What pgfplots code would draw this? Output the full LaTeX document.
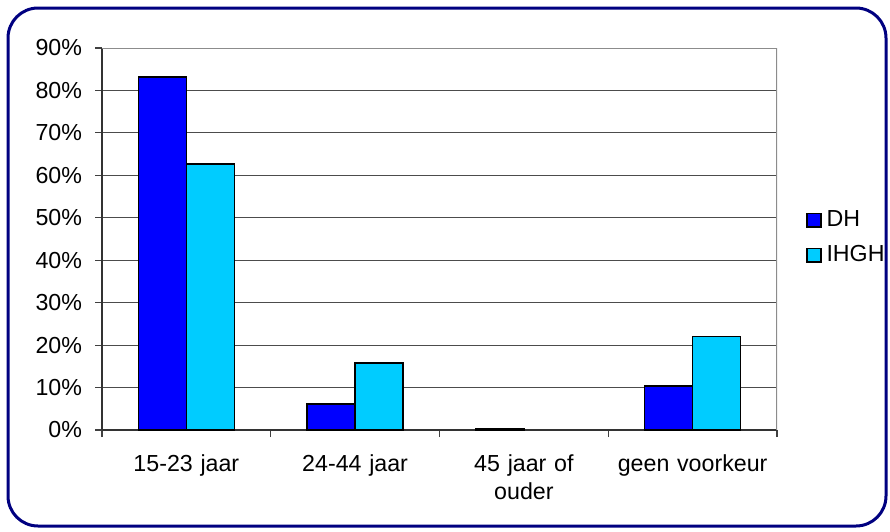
\documentclass[border=0pt]{standalone}
\usepackage{pgfplots}
\pgfplotsset{compat=1.18}
\usepackage{fontspec}
\setmainfont{Liberation Sans}
\definecolor{dhBlue}{HTML}{0000FF}
\definecolor{ihghCyan}{HTML}{00CCFF}
\definecolor{frameNavy}{HTML}{000080}
\begin{document}
\begin{tikzpicture}
% page = 890x531 px, 1px = 0.5pt, y downwards negative
\path (0pt,0pt) rectangle (445pt,-265.5pt);
\draw[frameNavy, line width=1.5pt, rounded corners=15pt] (4pt,-4pt) rectangle (443pt,-263pt);
\begin{axis}[
    at={(51pt,-215pt)},
    anchor=south west,
    scale only axis,
    width=337.5pt,
    height=191pt,
    font=\fontsize{11.6}{13.8}\selectfont,
    xmin=-0.5, xmax=3.5,
    ymin=0, ymax=90,
    ybar=0pt,
    bar width=0.284,
    xtick={-0.5,0.5,1.5,2.5,3.5},
    x tick label as interval,
    xticklabels={15-23 jaar,24-44 jaar,{45 jaar of\\ouder},geen voorkeur},
    xticklabel style={align=center, text width=90pt, yshift=-5.5pt},
    ytick={0,10,...,90},
    yticklabels={0\%,10\%,20\%,30\%,40\%,50\%,60\%,70\%,80\%,90\%},
    yticklabel style={xshift=-3pt},
    tick align=outside,
    major tick length=3.5pt,
    tick style={black!75, line width=0.6pt},
    ymajorgrids,
    major grid style={black!70, line width=0.5pt},
    separate axis lines,
    x axis line style={black!80, line width=0.6pt},
    y axis line style={black!80, line width=0.6pt},
    axis x line*=bottom,
    axis y line*=left,
    legend style={draw=none, fill=none, at={(1.043,0.503)}, anchor=west,
        font=\fontsize{11.6}{13.8}\selectfont, row sep=8pt,
        inner sep=0pt, nodes={inner xsep=2.5pt, inner ysep=0pt}},
    legend cell align=left,
    legend image code/.code={\draw[#1] (0pt,-3.3pt) rectangle (6.8pt,3.3pt);},
]
% plot area frame (top and right)
\draw[black!45, line width=0.6pt] (axis cs:-0.5,90) -- (axis cs:3.5,90) -- (axis cs:3.5,0);
\addplot[fill=dhBlue, draw=black, line width=0.75pt] coordinates {
    (0,83.2) (1,6.1) (2,0.4) (3,10.4)
};
\addplot[fill=ihghCyan, draw=black, line width=0.75pt] coordinates {
    (0,62.7) (1,15.8) (3,22.0)
};
\legend{DH,IHGH}
\end{axis}
\end{tikzpicture}
\end{document}
